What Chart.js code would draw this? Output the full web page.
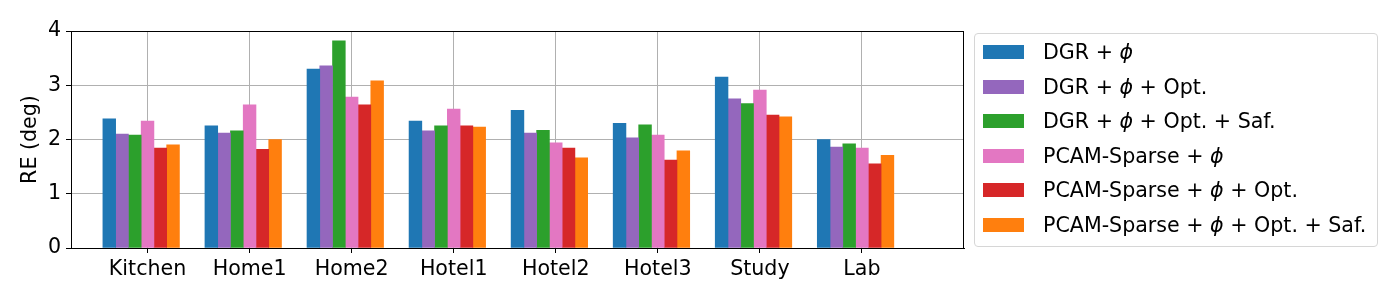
<!DOCTYPE html>
<html>
<head>
<meta charset="utf-8">
<script src="https://cdn.jsdelivr.net/npm/chart.js@4/dist/chart.umd.min.js"></script>
<style>
  html, body { margin: 0; padding: 0; background: #fff; }
  #wrap { position: relative; width: 1400px; height: 300px; font-family: "DejaVu Sans", sans-serif; }
  #chart { position: absolute; left: 0; top: 0; }
  .legend {
    position: absolute; left: 974px; top: 33px; width: 402px; height: 211px;
    border: 1px solid #d6d6d6; border-radius: 4px; box-sizing: content-box;
    padding-top: 1px;
  }
  .legend-row { display: flex; align-items: center; height: 34.5px; font-size: 20.6px; color: #000; white-space: nowrap; }
  .legend-swatch { width: 41px; height: 14px; margin-left: 8px; margin-right: 19px; flex: none; }
</style>
</head>
<body>
<div id="wrap">
  <canvas id="chart" width="1400" height="300"></canvas>
  <div class="legend" id="legend"></div>
</div>
<script>
// categories along the x axis
const categories = ["Kitchen", "Home1", "Home2", "Hotel1", "Hotel2", "Hotel3", "Study", "Lab"];

// RE (deg) per method
const dgrPhi          = [2.38, 2.25, 3.30, 2.34, 2.54, 2.30, 3.15, 2.00];
const dgrPhiOpt       = [2.10, 2.12, 3.36, 2.16, 2.12, 2.03, 2.75, 1.86];
const dgrPhiOptSaf    = [2.08, 2.16, 3.82, 2.25, 2.17, 2.27, 2.66, 1.92];
const pcamPhi         = [2.34, 2.64, 2.78, 2.56, 1.94, 2.08, 2.91, 1.84];
const pcamPhiOpt      = [1.84, 1.82, 2.64, 2.25, 1.84, 1.62, 2.45, 1.55];
const pcamPhiOptSaf   = [1.90, 2.00, 3.08, 2.23, 1.66, 1.79, 2.42, 1.71];

const yTicks = [0, 1, 2, 3, 4];

const series = [
  { name: "DGR + <i>ϕ</i>",                          values: dgrPhi,        color: "#1f77b4" },
  { name: "DGR + <i>ϕ</i> + Opt.",                   values: dgrPhiOpt,     color: "#9467bd" },
  { name: "DGR + <i>ϕ</i> + Opt. + Saf.",            values: dgrPhiOptSaf,  color: "#2ca02c" },
  { name: "PCAM-Sparse + <i>ϕ</i>",                  values: pcamPhi,       color: "#e377c2" },
  { name: "PCAM-Sparse + <i>ϕ</i> + Opt.",           values: pcamPhiOpt,    color: "#d62728" },
  { name: "PCAM-Sparse + <i>ϕ</i> + Opt. + Saf.",    values: pcamPhiOptSaf, color: "#ff7f0e" },
];

const barW = 0.125; // bar width in category units, like matplotlib's width=0.125

// each bar sits at category index + offset, so the linear x scale places it
const datasets = series.map((s, k) => ({
  label: s.name.replace(/<\/?i>/g, ""),
  data: s.values.map((v, i) => ({ x: i + (k - 3) * barW, y: v })),
  backgroundColor: s.color,
  borderWidth: 0,
  grouped: false,
  barPercentage: 1,
  categoryPercentage: 1,
}));

// black frame around the plot area (matplotlib spines)
const frame = {
  id: "frame",
  afterDraw(chart) {
    const { ctx, chartArea: a } = chart;
    ctx.save();
    ctx.strokeStyle = "#000";
    ctx.lineWidth = 1;
    ctx.strokeRect(Math.round(a.left) + 0.5, Math.round(a.top) + 0.5,
      Math.round(a.right - a.left) - 1, Math.round(a.bottom - a.top));
    ctx.restore();
  },
};

Chart.defaults.font.family = "'DejaVu Sans', sans-serif";
Chart.defaults.font.size = 20.6;
Chart.defaults.color = "#000";

new Chart(document.getElementById("chart"), {
  type: "bar",
  data: { datasets },
  options: {
    responsive: false,
    animation: false,
    devicePixelRatio: 1,
    layout: { padding: { top: 31, right: 436, left: 0, bottom: 0 } },
    plugins: { legend: { display: false }, tooltip: { enabled: false } },
    scales: {
      x: {
        type: "linear",
        min: -0.75,
        max: 8,
        offset: false,
        z: 1,
        afterBuildTicks: (scale) => { scale.ticks = categories.map((_, i) => ({ value: i })); },
        afterFit: (scale) => { scale.height = 52; },
        ticks: { padding: 4, maxRotation: 0, autoSkip: false, callback: (v) => categories[v] ?? "" },
        grid: { offset: false, color: "#b0b0b0", lineWidth: 1, tickColor: "#000", tickLength: 5, tickWidth: 1 },
        border: { color: "#000", width: 1 },
      },
      y: {
        min: 0,
        max: 4,
        z: 1,
        afterBuildTicks: (scale) => { scale.ticks = yTicks.map((v) => ({ value: v })); },
        afterFit: (scale) => { scale.width = 71; },
        ticks: { padding: 5 },
        grid: { color: "#b0b0b0", lineWidth: 1, tickColor: "#000", tickLength: 5, tickWidth: 1 },
        border: { color: "#000", width: 1 },
        title: { display: true, text: "RE (deg)", padding: { top: 18, bottom: 0 } },
      },
    },
  },
  plugins: [frame],
});

// legend built from the same series list, kept as html so phi can be italic
document.getElementById("legend").innerHTML = series.map((s) =>
  `<div class="legend-row"><span class="legend-swatch" style="background:${s.color}"></span><span>${s.name}</span></div>`
).join("");
</script>
</body>
</html>
